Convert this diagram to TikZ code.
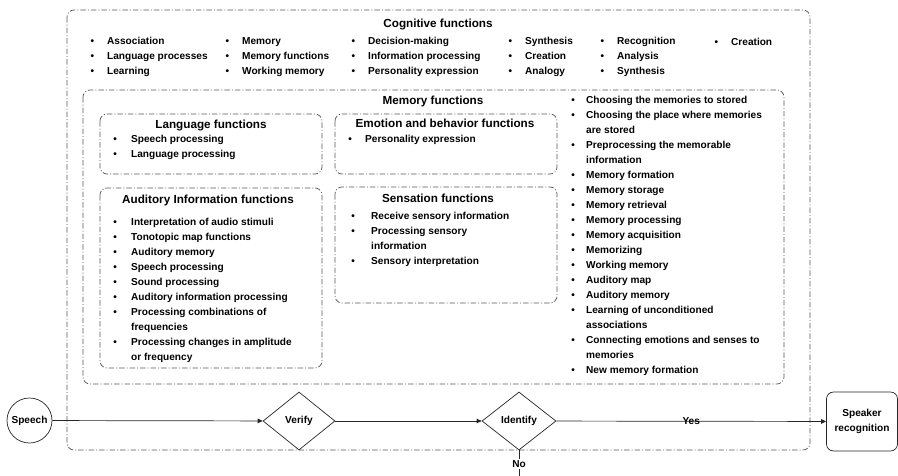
\documentclass[tikz,border=0pt]{standalone}
\usepackage{fontspec}
\setmainfont{Liberation Sans}
\usetikzlibrary{shapes.geometric,arrows.meta}
\newcommand\mylist[2]{\begin{tabular}[t]{@{}p{#1}@{}l@{}}#2\end{tabular}}
\tikzset{
  ddbox/.style={draw=black!65, line width=0.75pt, dash pattern=on 5.5pt off 2pt on 1pt off 2pt, rounded corners=7pt},
  ttl/.style={font=\fontsize{11.7}{14}\selectfont\bfseries, anchor=base, inner sep=0},
  lst/.style={font=\fontsize{10.1}{15.05}\selectfont\bfseries, anchor=base west, inner sep=0},
  lbl/.style={font=\fontsize{10.1}{15}\selectfont\bfseries},
  shp/.style={draw=black!85, line width=0.7pt, lbl},
  conn/.style={draw=black!85, line width=0.7pt, -{Triangle[length=5pt,width=4.5pt]}},
  plainconn/.style={draw=black!85, line width=0.7pt},
}
\begin{document}
\begin{tikzpicture}[x=1pt, y=-1pt]
\useasboundingbox (0,0) rectangle (898,475);
% containers
\draw[ddbox] (67,10) rectangle (810,450);
\draw[ddbox] (83,90) rectangle (784,384);
\draw[ddbox] (100,114) rectangle (322,174);
\draw[ddbox] (335,114) rectangle (557,174);
\draw[ddbox] (100,188) rectangle (322,368);
\draw[ddbox] (335,187) rectangle (557,303);
% titles
\node[ttl] (tcog) at (438,27) {Cognitive functions};
\node[ttl] (tmem) at (433,104) {Memory functions};
\node[ttl] (tlang) at (211,128) {Language functions};
\node[ttl] (temo) at (445,127) {Emotion and behavior functions};
\node[ttl] (taud) at (208,203) {Auditory Information functions};
\node[ttl] (tsen) at (438,202) {Sensation functions};
% cognitive lists
\node[lst] (c1) at (90.5,44) {\mylist{16.5pt}{• & Association\\ • & Language processes\\ • & Learning}};
\node[lst] (c2) at (225.5,44) {\mylist{16.5pt}{• & Memory\\ • & Memory functions\\ • & Working memory}};
\node[lst] (c3) at (351.5,44) {\mylist{16.5pt}{• & Decision-making\\ • & Information processing\\ • & Personality expression}};
\node[lst] (c4) at (508.5,44) {\mylist{16.5pt}{• & Synthesis\\ • & Creation\\ • & Analogy}};
\node[lst] (c5) at (600.5,44) {\mylist{16.5pt}{• & Recognition\\ • & Analysis\\ • & Synthesis}};
\node[lst] (c6) at (714.5,45) {\mylist{16.5pt}{• & Creation}};
% inner lists
\node[lst] (l1) at (113.2,142) {\mylist{17.8pt}{• & Speech processing\\ • & Language processing}};
\node[lst] (e1) at (348.2,142) {\mylist{16.8pt}{• & Personality expression}};
\node[lst] (a1) at (113.2,225) {\mylist{17.8pt}{• & Interpretation of audio stimuli\\ • & Tonotopic map functions\\ • & Auditory memory\\ • & Speech processing\\ • & Sound processing\\ • & Auditory information processing\\ • & Processing combinations of\\ & frequencies\\ • & Processing changes in amplitude\\ & or frequency}};
\node[lst] (s1) at (351.2,219) {\mylist{19.8pt}{• & Receive sensory information\\ • & Processing sensory\\ & information\\ • & Sensory interpretation}};
\node[lst] (m1) at (571.2,103) {\mylist{14.8pt}{• & Choosing the memories to stored\\ • & Choosing the place where memories\\ & are stored\\ • & Preprocessing the memorable\\ & information\\ • & Memory formation\\ • & Memory storage\\ • & Memory retrieval\\ • & Memory processing\\ • & Memory acquisition\\ • & Memorizing\\ • & Working memory\\ • & Auditory map\\ • & Auditory memory\\ • & Learning of unconditioned\\ & associations\\ • & Connecting emotions and senses to\\ & memories\\ • & New memory formation}};
% flow
\node[shp, circle, minimum size=45pt, inner sep=0] (speech) at (29.5,420.5) {Speech};
\node[shp, diamond, minimum width=72pt, minimum height=58pt, inner sep=0, fill=white] (verify) at (299,421) {Verify};
\node[shp, diamond, minimum width=74pt, minimum height=58pt, inner sep=0, fill=white] (identify) at (519,421) {Identify};
\node[shp, rounded corners=7pt, minimum width=71pt, minimum height=59pt, align=center, inner sep=0] (spk) at (862,421.5) {Speaker\\recognition};
\coordinate (noend) at (519,490);
\draw[conn] (speech) -- (verify);
\draw[conn] (verify) -- (identify);
\draw[conn] (identify) -- node[lbl, inner sep=0] (yes) {Yes} (spk);
\draw[plainconn] (identify.south) -- (noend);
\node[lbl, fill=white, inner sep=1pt] (no) at (519,464) {No};
\end{tikzpicture}
\end{document}
